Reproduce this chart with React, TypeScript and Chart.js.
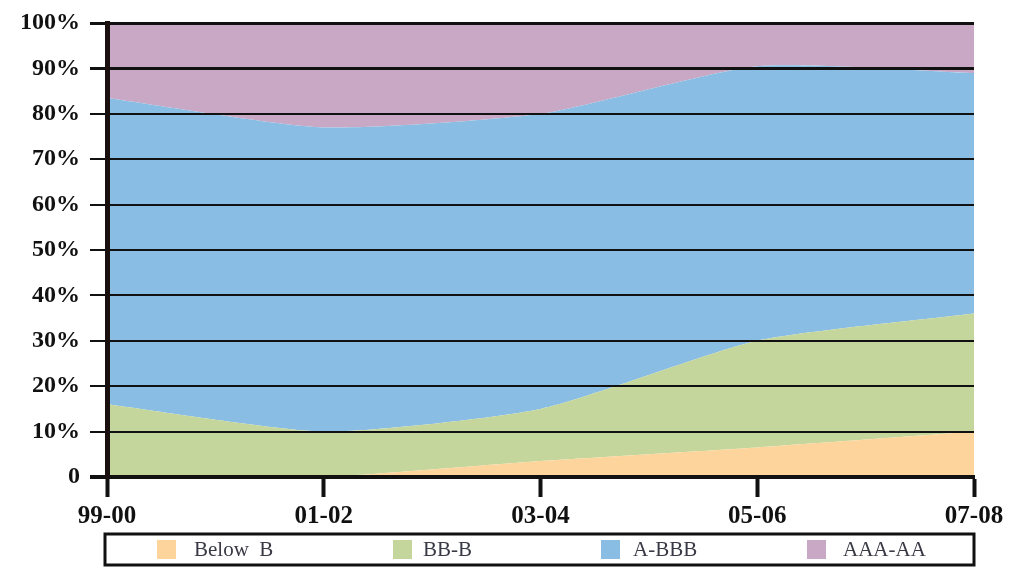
import React, { useEffect, useRef } from "react";
import { Chart, registerables } from "chart.js";

Chart.register(...registerables);

const categories = ["99-00", "01-02", "03-04", "05-06", "07-08"];
const belowB = [0, 0, 3.5, 6.5, 10];
const bbB = [16, 10, 11.5, 23.5, 26];
const aBBB = [67.5, 67, 65, 60.5, 53];
const aaaAA = [16.5, 23, 20, 9.5, 11];
const seriesLabels = ["Below  B", "BB-B", "A-BBB", "AAA-AA"];
const seriesColors = ["#FDD49B", "#C4D69B", "#89BDE3", "#C8A8C4"];
const yTickLabels = ["0", "10%", "20%", "30%", "40%", "50%", "60%", "70%", "80%", "90%", "100%"];
const legendSwatchX = [157, 393, 601, 807];
const legendTextX = [194, 423, 633, 843];

const legendPlugin = {
  id: "boxLegend",
  afterDraw(chart: any) {
    const ctx = chart.ctx;
    ctx.save();
    ctx.strokeStyle = "#111";
    ctx.lineWidth = 3;
    ctx.strokeRect(105, 534, 869, 31);
    chart.data.datasets.forEach((ds: any, i: number) => {
      ctx.fillStyle = ds.backgroundColor;
      ctx.fillRect(legendSwatchX[i], 540, 19, 19);
      ctx.fillStyle = "#3a3a46";
      ctx.font = '21px "Liberation Serif"';
      ctx.textBaseline = "middle";
      ctx.textAlign = "left";
      ctx.fillText(ds.label, legendTextX[i], 550);
    });
    ctx.restore();
  },
};

export default function App() {
  const ref = useRef<HTMLCanvasElement>(null);
  useEffect(() => {
    document.body.style.margin = "0";
    const values = [belowB, bbB, aBBB, aaaAA];
    const chart = new Chart(ref.current!, {
      type: "line",
      data: {
        labels: categories,
        datasets: values.map((v, i) => ({
          label: seriesLabels[i],
          data: v,
          backgroundColor: seriesColors[i],
          borderColor: "rgba(0,0,0,0)",
          borderWidth: 0,
          pointRadius: 0,
          tension: 0.2,
          fill: i === 0 ? "origin" : "-1",
        })),
      },
      options: {
        responsive: false,
        animation: false,
        layout: { padding: { left: 0, top: 23, right: 49, bottom: 0 } },
        plugins: { legend: { display: false }, tooltip: { enabled: false } },
        scales: {
          x: {
            offset: false,
            afterFit: (s: any) => { s.height = 102; },
            grid: { z: 1, drawOnChartArea: false, drawTicks: true, tickLength: 20, tickWidth: 4, tickColor: "#111" },
            border: { z: 2, display: true, width: 4, color: "#111" },
            ticks: { color: "#111", font: { family: "Liberation Serif", size: 25, weight: "bold" }, padding: 5, maxRotation: 0 },
          },
          y: {
            stacked: true,
            min: 0,
            max: 100,
            afterFit: (s: any) => { s.width = 107; },
            grid: {
              z: 1,
              color: "#111",
              lineWidth: (c: any) => (c.tick && (c.tick.value === 100 || c.tick.value === 90) ? 3 : c.tick && c.tick.value === 0 ? 4 : 2),
              drawTicks: true,
              tickLength: 17,
            },
            border: { z: 2, display: true, width: 5, color: "#1a1010" },
            ticks: {
              stepSize: 10,
              color: "#111",
              padding: 10,
              font: { family: "Liberation Serif", size: 24, weight: "bold", lineHeight: 1 },
              callback: (v: any) => yTickLabels[Math.round(Number(v) / 10)],
            },
          },
        },
      },
      plugins: [legendPlugin],
    });
    return () => chart.destroy();
  }, []);
  return (
    <div style={{ width: 1023, height: 579, background: "#fff" }}>
      <canvas ref={ref} width={1023} height={579} />
    </div>
  );
}
